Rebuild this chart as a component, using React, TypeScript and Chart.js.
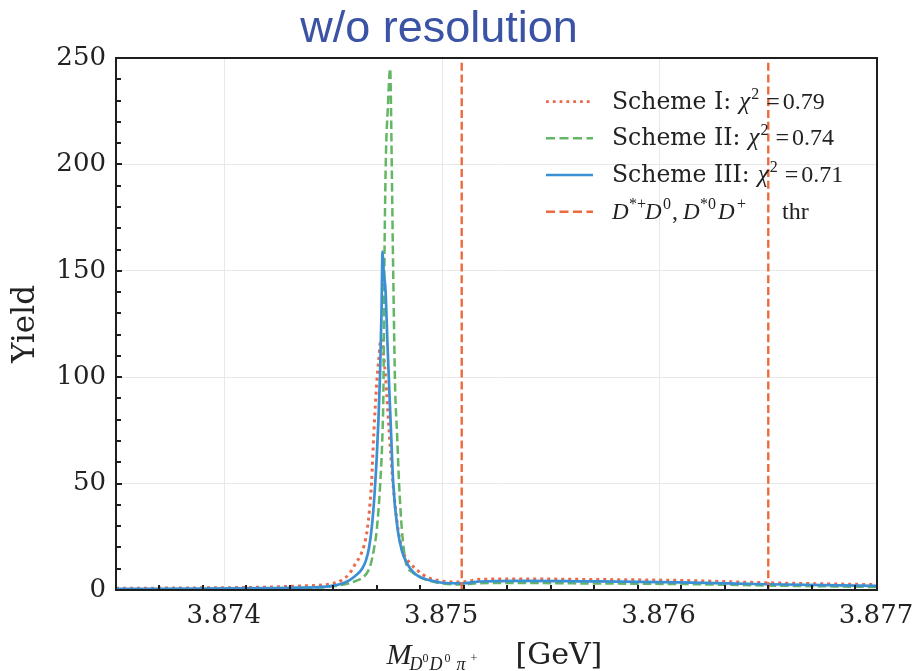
import React, { useEffect, useRef } from "react";
import { Chart, registerables } from "chart.js";

Chart.register(...registerables);

// ---------- data ----------
const X_MIN = 3.8735;
const X_MAX = 3.877;
const Y_MIN = 0;
const Y_MAX = 250;
const xTickValues = [3.874, 3.875, 3.876, 3.877];
const xTickLabels = ["3.874", "3.875", "3.876", "3.877"];
const yTickValues = [0, 50, 100, 150, 200, 250];
const xMinorStep = 0.0002;
const yMinorStep = 10;

const scheme1X = [
  3.8735, 3.873887, 3.874163, 3.874347, 3.874499, 3.874544, 3.874576, 3.874599, 3.874623, 3.874641,
  3.874655, 3.874666, 3.874675, 3.874686, 3.874697, 3.874708, 3.874719, 3.874729, 3.874736, 3.874744,
  3.874756, 3.874765, 3.874774, 3.874798, 3.874824, 3.874852, 3.874889, 3.874929, 3.87499, 3.875046,
  3.875092, 3.875174, 3.875358, 3.875634, 3.876094, 3.876495, 3.877,
];
const scheme1Y = [
  0.8, 1.0, 1.3, 1.9, 3.1, 5, 8, 12, 16, 21,
  28, 38, 50, 74, 94, 108, 118, 112, 105, 94,
  75, 62, 50, 28, 17, 12.7, 9, 6.1, 4.3, 3.8,
  3.8, 5.0, 5.2, 5.0, 4.5, 3.4, 2.5,
];

const scheme2X = [
  3.8735, 3.873887, 3.874163, 3.874347, 3.874485, 3.874576, 3.874609, 3.874638, 3.87466, 3.874673,
  3.874686, 3.874699, 3.874714, 3.874726, 3.87473, 3.874734, 3.874741, 3.87475, 3.874761, 3.874765,
  3.874768, 3.874775, 3.874784, 3.874792, 3.874802, 3.874815, 3.874834, 3.874861, 3.874898, 3.874945,
  3.874999, 3.875092, 3.875174, 3.875358, 3.875634, 3.876094, 3.876495, 3.877,
];
const scheme2Y = [
  0.3, 0.4, 0.6, 0.9, 1.6, 3.3, 4.5, 6.1, 9, 12.7,
  19, 28, 48, 75, 94, 149, 202, 226, 245, 226,
  202, 149, 94, 75, 50, 28, 12.7, 8.5, 6.1, 4.2,
  3.1, 2.6, 3.2, 3.3, 3.1, 2.8, 2.1, 1.4,
];

const scheme3X = [
  3.8735, 3.873887, 3.874163, 3.874347, 3.874485, 3.874553, 3.874599, 3.874632, 3.87465, 3.874664,
  3.874677, 3.874689, 3.874699, 3.874707, 3.874714, 3.874721, 3.874726, 3.874731, 3.87474, 3.874748,
  3.874757, 3.874765, 3.874775, 3.874796, 3.874816, 3.874837, 3.874866, 3.874898, 3.874945, 3.874999,
  3.875092, 3.875174, 3.875358, 3.875634, 3.876094, 3.876495, 3.877,
];
const scheme3Y = [
  0.5, 0.6, 0.9, 1.1, 1.8, 3.5, 6.5, 10, 14, 20,
  30, 45, 62, 80, 100, 130, 159, 150, 140, 117,
  94, 74, 50, 28, 18, 12.7, 8.5, 6.1, 4.5, 3.4,
  3.1, 4.0, 4.3, 4.1, 3.6, 2.7, 1.9,
];

const thresholdX = [3.87509, 3.8765];

// ---------- styles ----------
const C_S1 = "#ea6a4a";
const C_S2 = "#63b663";
const C_S3 = "#3b8fd3";
const C_THR = "#ec6a3e";
const C_TITLE = "#3a53a5";
const AXIS = "#1e1e1e";

const TEXT_FONT = "'DejaVu Serif'";
const MATH_FONT = "'Liberation Serif'";

function pts(xs: number[], ys: number[]) {
  return xs.map((x, i) => ({ x, y: ys[i] }));
}

type Seg = { t: string; f: string; dy?: number; dx?: number; ax?: number };
function drawRich(ctx: CanvasRenderingContext2D, segs: Seg[], x: number, y: number) {
  let cx = x;
  for (const s of segs) {
    ctx.font = s.f;
    if (s.ax !== undefined) cx = x + s.ax;
    cx += s.dx || 0;
    ctx.fillText(s.t, cx, y + (s.dy || 0));
    cx += ctx.measureText(s.t).width;
  }
  return cx;
}

const decorPlugin = {
  id: "decor",
  afterDatasetsDraw(chart: any) {
    const ctx: CanvasRenderingContext2D = chart.ctx;
    const { left, right, top, bottom } = chart.chartArea;
    const xs = chart.scales.x;
    const ys = chart.scales.y;
    ctx.save();
    // frame
    ctx.strokeStyle = AXIS;
    ctx.lineWidth = 2;
    ctx.strokeRect(left, top, right - left, bottom - top);
    // ticks (inward)
    ctx.beginPath();
    for (let v = X_MIN; v <= X_MAX + 1e-9; v += xMinorStep) {
      const isMajor = xTickValues.some((t) => Math.abs(t - v) < 1e-7);
      const px = Math.round(xs.getPixelForValue(v));
      const len = isMajor ? 6 : 5;
      if (px <= left + 1 || px >= right - 1) continue;
      ctx.moveTo(px, bottom);
      ctx.lineTo(px, bottom - len);
    }
    for (let v = Y_MIN; v <= Y_MAX + 1e-9; v += yMinorStep) {
      const isMajor = yTickValues.some((t) => Math.abs(t - v) < 1e-7);
      const py = Math.round(ys.getPixelForValue(v));
      const len = isMajor ? 6 : 5;
      if (py <= top + 1 || py >= bottom - 1) continue;
      ctx.moveTo(left, py);
      ctx.lineTo(left + len, py);
    }
    ctx.stroke();

    // x tick labels
    ctx.fillStyle = "#222";
    ctx.font = `26px ${TEXT_FONT}`;
    ctx.textAlign = "center";
    ctx.textBaseline = "alphabetic";
    xTickValues.forEach((v, i) => {
      ctx.fillText(xTickLabels[i], xs.getPixelForValue(v) - 1, 623);
    });

    // title
    ctx.fillStyle = C_TITLE;
    ctx.font = "45px 'Liberation Sans'";
    ctx.textAlign = "center";
    ctx.fillText("w/o resolution", 439, 42);

    // y-axis title
    ctx.fillStyle = "#222";
    ctx.save();
    ctx.translate(26, (top + bottom) / 2);
    ctx.rotate(-Math.PI / 2);
    ctx.font = `31px ${TEXT_FONT}`;
    ctx.textAlign = "center";
    ctx.textBaseline = "middle";
    ctx.fillText("Yield", 0, 0);
    ctx.restore();

    // x-axis title
    ctx.textAlign = "left";
    ctx.textBaseline = "alphabetic";
    const sub = `italic 18px ${MATH_FONT}`;
    const sup = `12px ${MATH_FONT}`;
    const xt: Seg[] = [
      { t: "M", f: `italic 30px ${MATH_FONT}`, ax: 0 },
      { t: "D", f: sub, dy: 6, ax: 23 },
      { t: "0", f: sup, dy: -2, ax: 36 },
      { t: "D", f: sub, dy: 6, ax: 43 },
      { t: "0", f: sup, dy: -2, ax: 58 },
      { t: "π", f: sub, dy: 6, ax: 70 },
      { t: "+", f: sup, dy: -2, ax: 84 },
      { t: "[GeV]", f: `30px ${TEXT_FONT}`, ax: 129 },
    ];
    const xtWidth = 216;
    drawRich(ctx, xt, (left + right) / 2 - xtWidth / 2 - 2, 664);

    // legend
    const lx0 = 546;
    const lx1 = 593;
    const tx = 612;
    const rowY = [101.7, 138.3, 175, 211.7];
    const styles = [
      { c: C_S1, d: [2.8, 4], w: 2.8 },
      { c: C_S2, d: [9, 4.5], w: 2.6 },
      { c: C_S3, d: [], w: 2.6 },
      { c: C_THR, d: [9, 4.5], w: 2.6 },
    ];
    const tf = `23.5px ${TEXT_FONT}`;
    const mi = `italic 25px ${MATH_FONT}`;
    const md = `italic 23px ${MATH_FONT}`;
    const mr = `24px ${MATH_FONT}`;
    const sp = `16px ${MATH_FONT}`;
    const chi = (val: string): Seg[] => [
      { t: "χ", f: mi, dx: 8 },
      { t: "2", f: sp, dy: -10, dx: 1 },
      { t: "=", f: mr, dx: 7 },
      { t: val, f: mr, dx: 3 },
    ];
    const rows: Seg[][] = [
      [{ t: "Scheme I:", f: tf }, ...chi("0.79")],
      [{ t: "Scheme II:", f: tf }, ...chi("0.74")],
      [{ t: "Scheme III:", f: tf }, ...chi("0.71")],
      [
        { t: "D", f: md, ax: 0 },
        { t: "*+", f: sp, dy: -10, ax: 17 },
        { t: "D", f: md, ax: 33 },
        { t: "0", f: sp, dy: -10, ax: 51 },
        { t: ",", f: mr, ax: 60 },
        { t: "D", f: md, ax: 71 },
        { t: "*0", f: sp, dy: -10, ax: 88 },
        { t: "D", f: md, ax: 106 },
        { t: "+", f: sp, dy: -10, ax: 125 },
        { t: "thr", f: mr, ax: 170 },
      ],
    ];
    for (let i = 0; i < 4; i++) {
      const s = styles[i];
      ctx.strokeStyle = s.c;
      ctx.lineWidth = s.w;
      ctx.setLineDash(s.d);
      ctx.beginPath();
      ctx.moveTo(lx0, rowY[i]);
      ctx.lineTo(lx1, rowY[i]);
      ctx.stroke();
      ctx.setLineDash([]);
      ctx.fillStyle = "#222";
      drawRich(ctx, rows[i], tx, rowY[i] + 7);
    }
    ctx.restore();
  },
};

export default function App() {
  const ref = useRef<HTMLCanvasElement | null>(null);
  useEffect(() => {
    if (!ref.current) return;
    const lineCommon = { pointRadius: 0, pointHoverRadius: 0, fill: false, cubicInterpolationMode: "monotone" as const };
    const chart = new Chart(ref.current, {
      type: "line",
      data: {
        datasets: [
          ...thresholdX.map((tx, i) => ({
            label: i === 0 ? "thr" : "thr2",
            data: [{ x: tx, y: Y_MIN }, { x: tx, y: Y_MAX }],
            borderColor: C_THR,
            borderWidth: 2.4,
            borderDash: [8, 3.8],
            pointRadius: 0,
            order: 0,
          })),
          { label: "Scheme III", data: pts(scheme3X, scheme3Y), borderColor: C_S3, borderWidth: 2.7, order: 1, ...lineCommon },
          { label: "Scheme II", data: pts(scheme2X, scheme2Y), borderColor: C_S2, borderWidth: 2.5, borderDash: [8.5, 4], order: 2, ...lineCommon },
          { label: "Scheme I", data: pts(scheme1X, scheme1Y), borderColor: C_S1, borderWidth: 3, borderDash: [3, 4], order: 3, ...lineCommon },
        ],
      },
      options: {
        animation: false,
        responsive: false,
        devicePixelRatio: 1,
        layout: { padding: { top: 58, right: 38, left: 0, bottom: 0 }, autoPadding: false },
        plugins: { legend: { display: false }, title: { display: false }, tooltip: { enabled: false } },
        scales: {
          x: {
            type: "linear",
            min: X_MIN,
            max: X_MAX,
            afterBuildTicks: (s: any) => {
              s.ticks = xTickValues.map((v) => ({ value: v }));
            },
            afterFit: (s: any) => {
              s.height = 81;
            },
            grid: { color: "#e8e8e8", lineWidth: 1, drawTicks: false },
            border: { display: false },
            ticks: { display: false },
          },
          y: {
            type: "linear",
            min: Y_MIN,
            max: Y_MAX,
            afterBuildTicks: (s: any) => {
              s.ticks = yTickValues.map((v) => ({ value: v }));
            },
            afterFit: (s: any) => {
              s.width = 116;
            },
            grid: { color: "#e8e8e8", lineWidth: 1, drawTicks: false },
            border: { display: false },
            ticks: {
              padding: 10,
              color: "#222",
              font: { family: "DejaVu Serif", size: 26 },
              callback: (v: any) => String(v),
            },
          },
        },
      },
      plugins: [decorPlugin],
    } as any);
    return () => chart.destroy();
  }, []);
  return (
    <div style={{ position: "absolute", left: 0, top: 0, width: 915, height: 671, background: "#fff" }}>
      <canvas ref={ref} width={915} height={671} style={{ display: "block", width: 915, height: 671 }} />
    </div>
  );
}
